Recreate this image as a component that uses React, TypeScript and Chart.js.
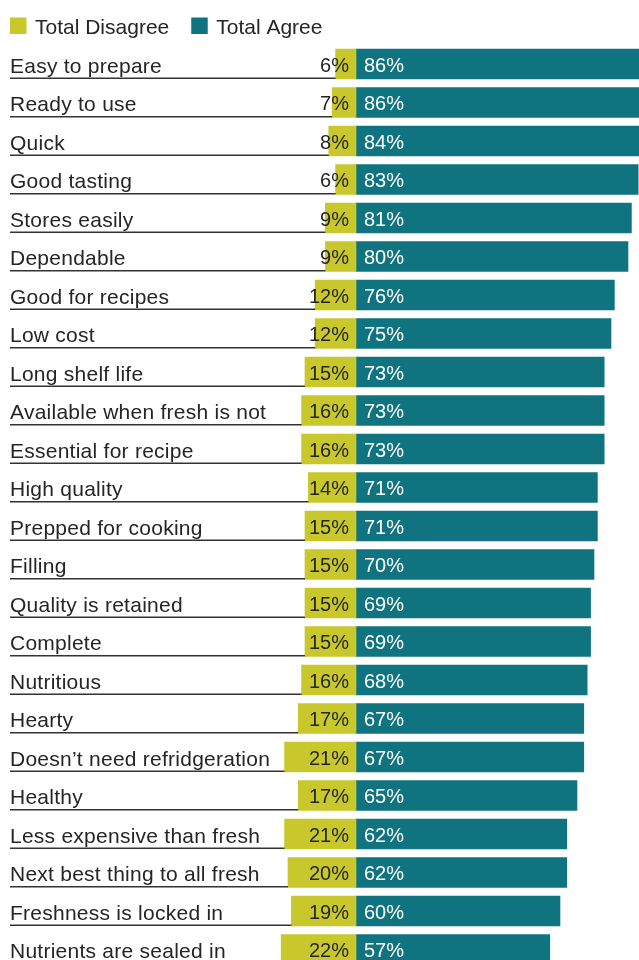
import React, { useEffect, useRef } from "react";
import { Chart, registerables } from "chart.js";

Chart.register(...registerables);

const categories = [
  "Easy to prepare",
  "Ready to use",
  "Quick",
  "Good tasting",
  "Stores easily",
  "Dependable",
  "Good for recipes",
  "Low cost",
  "Long shelf life",
  "Available when fresh is not",
  "Essential for recipe",
  "High quality",
  "Prepped for cooking",
  "Filling",
  "Quality is retained",
  "Complete",
  "Nutritious",
  "Hearty",
  "Doesn\u2019t need refridgeration",
  "Healthy",
  "Less expensive than fresh",
  "Next best thing to all fresh",
  "Freshness is locked in",
  "Nutrients are sealed in",
];

const disagreeValues = [6, 7, 8, 6, 9, 9, 12, 12, 15, 16, 16, 14, 15, 15, 15, 15, 16, 17, 21, 17, 21, 20, 19, 22];
const agreeValues = [86, 86, 84, 83, 81, 80, 76, 75, 73, 73, 73, 71, 71, 70, 69, 69, 68, 67, 67, 65, 62, 62, 60, 57];

const seriesLabels = ["Total Disagree", "Total Agree"];
const seriesColors = ["#c8c82c", "#0f7480"];

const FONT = "'Liberation Sans', Arial, sans-serif";
const TEXT = "#252525";

const overlayPlugin = {
  id: "overlay",
  afterDatasetsDraw(chart: any) {
    const ctx = chart.ctx;
    const xs = chart.scales.x;
    const ys = chart.scales.y;
    const x0 = xs.getPixelForValue(0);
    ctx.save();
    // legend
    ctx.font = `21px ${FONT}`;
    ctx.textBaseline = "alphabetic";
    ctx.textAlign = "left";
    let lx = 10;
    chart.data.datasets.forEach((ds: any) => {
      ctx.fillStyle = ds.backgroundColor;
      ctx.fillRect(lx, 17.5, 16.5, 16.5);
      ctx.fillStyle = TEXT;
      ctx.fillText(ds.label, lx + 25, 33.5);
      lx += 25 + ctx.measureText(ds.label).width + 22;
    });
    categories.forEach((cat, i) => {
      const y = ys.getPixelForValue(i);
      const left = xs.getPixelForValue(-disagreeValues[i]);
      // underline
      ctx.strokeStyle = "#333333";
      ctx.lineWidth = 1.6;
      ctx.beginPath();
      ctx.moveTo(10, y + 14.2);
      ctx.lineTo(left, y + 14.2);
      ctx.stroke();
      // category label
      ctx.font = `21px ${FONT}`;
      (ctx as any).letterSpacing = "0.25px";
      ctx.fillStyle = TEXT;
      ctx.textAlign = "left";
      ctx.fillText(cat, 10, y + 8.5);
      (ctx as any).letterSpacing = "0px";
      // value labels
      ctx.font = `20px ${FONT}`;
      ctx.textAlign = "right";
      ctx.fillStyle = TEXT;
      ctx.fillText(disagreeValues[i] + "%", x0 - 7, y + 7.5);
      ctx.textAlign = "left";
      ctx.fillStyle = "#ffffff";
      ctx.fillText(agreeValues[i] + "%", x0 + 8, y + 7.5);
    });
    ctx.restore();
  },
};

export default function App() {
  const ref = useRef<HTMLCanvasElement | null>(null);
  useEffect(() => {
    if (!ref.current) return;
    const chart = new Chart(ref.current, {
      type: "bar",
      data: {
        labels: categories,
        datasets: [
          {
            label: seriesLabels[0],
            data: disagreeValues.map((v) => -v),
            backgroundColor: seriesColors[0],
            barThickness: 30,
          },
          {
            label: seriesLabels[1],
            data: agreeValues,
            backgroundColor: seriesColors[1],
            barThickness: 30,
          },
        ],
      },
      options: {
        indexAxis: "y",
        animation: false,
        responsive: true,
        maintainAspectRatio: false,
        layout: { padding: { top: 44.75, bottom: 11.25, left: 0, right: 0 } },
        plugins: { legend: { display: false }, tooltip: { enabled: false } },
        scales: {
          x: { display: false, stacked: true, min: -104.7, max: 83.24 },
          y: { display: false, stacked: true, offset: true },
        },
      },
      plugins: [overlayPlugin],
    } as any);
    return () => chart.destroy();
  }, []);
  return (
    <div
      style={{
        position: "fixed",
        left: 0,
        top: 0,
        width: 639,
        height: 960,
        overflow: "hidden",
        background: "#fff",
      }}
    >
      <div style={{ position: "relative", width: 639, height: 980 }}>
        <canvas ref={ref} />
      </div>
    </div>
  );
}
